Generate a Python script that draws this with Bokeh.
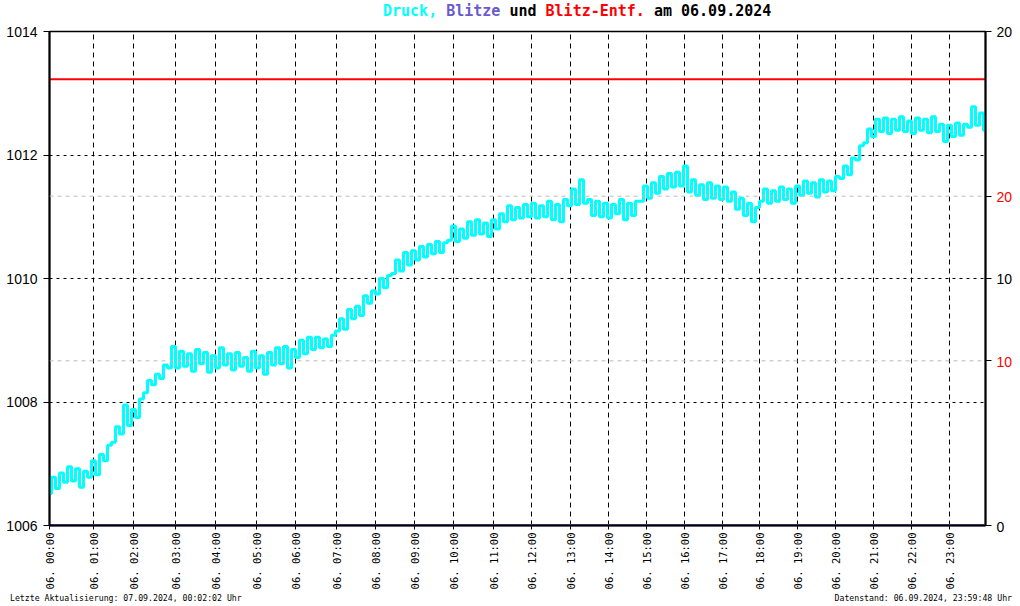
import numpy as np
from bokeh.plotting import figure
from bokeh.models import Range1d, LinearAxis, FixedTicker, Span, Div, Spacer
from bokeh.layouts import column, row
from bokeh.core.properties import value
from bokeh.embed import file_html
from bokeh.resources import INLINE

# ---------------- data ----------------
day_prefix = "06."
hour_labels = ["00:00", "01:00", "02:00", "03:00", "04:00", "05:00", "06:00", "07:00",
               "08:00", "09:00", "10:00", "11:00", "12:00", "13:00", "14:00", "15:00",
               "16:00", "17:00", "18:00", "19:00", "20:00", "21:00", "22:00", "23:00"]
# number of records logged in each hour (x axis is record-index based)
samples_per_hour = [44, 40, 42, 40, 41, 39, 41, 39, 39, 39, 40, 38,
                    39, 38, 38, 38, 38, 37, 38, 38, 38, 38, 38, 36]
record_step = 4  # one pressure value listed per 4 records

pressure = [
    1006.52, 1006.78, 1006.60, 1006.85, 1006.70, 1006.95, 1006.72, 1006.92, 1006.62, 1006.88,
    1006.78, 1007.05, 1006.82, 1007.15, 1007.05, 1007.30, 1007.35, 1007.60, 1007.48, 1007.95,
    1007.62, 1007.88, 1007.75, 1008.05, 1008.15, 1008.35, 1008.28, 1008.45, 1008.38, 1008.60,
    1008.55, 1008.90, 1008.55, 1008.82, 1008.58, 1008.78, 1008.50, 1008.85, 1008.62, 1008.80,
    1008.48, 1008.75, 1008.55, 1008.88, 1008.60, 1008.78, 1008.52, 1008.80, 1008.58, 1008.72,
    1008.50, 1008.82, 1008.55, 1008.75, 1008.45, 1008.80, 1008.60, 1008.88, 1008.62, 1008.90,
    1008.55, 1008.85, 1008.72, 1009.00, 1008.78, 1009.05, 1008.85, 1009.05, 1008.88, 1009.02,
    1008.90, 1009.08, 1009.15, 1009.35, 1009.18, 1009.50, 1009.35, 1009.55, 1009.40, 1009.72,
    1009.60, 1009.80, 1009.75, 1010.00, 1009.85, 1010.05, 1010.08, 1010.30, 1010.12, 1010.42,
    1010.22, 1010.45, 1010.30, 1010.52, 1010.35, 1010.55, 1010.40, 1010.60, 1010.42, 1010.58,
    1010.62, 1010.85, 1010.60, 1010.80, 1010.65, 1010.92, 1010.70, 1010.95, 1010.72, 1010.90,
    1010.68, 1010.95, 1010.80, 1011.05, 1010.92, 1011.18, 1010.95, 1011.15, 1010.98, 1011.20,
    1011.00, 1011.22, 1010.98, 1011.18, 1011.00, 1011.25, 1010.95, 1011.20, 1010.92, 1011.28,
    1011.18, 1011.45, 1011.20, 1011.60, 1011.22, 1011.28, 1011.02, 1011.25, 1011.00, 1011.22,
    1010.98, 1011.20, 1011.05, 1011.28, 1010.95, 1011.22, 1011.02, 1011.25, 1011.25, 1011.50,
    1011.30, 1011.55, 1011.38, 1011.65, 1011.45, 1011.70, 1011.48, 1011.72, 1011.50, 1011.82,
    1011.40, 1011.60, 1011.35, 1011.52, 1011.28, 1011.55, 1011.30, 1011.50, 1011.28, 1011.48,
    1011.25, 1011.40, 1011.12, 1011.30, 1011.02, 1011.22, 1010.92, 1011.15, 1011.25, 1011.45,
    1011.22, 1011.42, 1011.25, 1011.48, 1011.28, 1011.45, 1011.22, 1011.50, 1011.35, 1011.58,
    1011.38, 1011.55, 1011.32, 1011.60, 1011.40, 1011.58, 1011.42, 1011.65, 1011.62, 1011.82,
    1011.68, 1011.95, 1011.92, 1012.15, 1012.20, 1012.42, 1012.30, 1012.58, 1012.38, 1012.60,
    1012.35, 1012.58, 1012.40, 1012.62, 1012.38, 1012.55, 1012.35, 1012.60, 1012.40, 1012.58,
    1012.36, 1012.62, 1012.38, 1012.50, 1012.22, 1012.48, 1012.30, 1012.52, 1012.32, 1012.50,
    1012.45, 1012.78, 1012.48, 1012.68, 1012.40,
]
blitze = [0, 0]            # lightning count: none during the day
blitz_entf = [27.1, 27.1]  # lightning distance line

pressure_ticks = [1006, 1008, 1010, 1012, 1014]
blitze_ticks = [0, 10, 20]
entf_ticks = [10, 20]

title_parts = [("Druck,", "#00FFFF"), ("Blitze", "#6A5ACD"), ("und", "black"),
               ("Blitz-Entf.", "#FF0000"), ("am 06.09.2024", "black")]
footer_left = "Letzte Aktualisierung: 07.09.2024, 00:02:02 Uhr"
footer_right = "Datenstand: 06.09.2024, 23:59:48 Uhr"

# ---------------- derived ----------------
total = int(np.sum(samples_per_hour))
hour_pos = [int(v) for v in np.concatenate([[0], np.cumsum(samples_per_hour)[:-1]])]
px = np.arange(len(pressure)) * record_step
ends = [0, total]

BLITZE_MAX = 20
ENTF_MAX = 30
scale = ENTF_MAX / BLITZE_MAX

# layout geometry
TOTAL_W = 1016
TITLE_H = 22
FOOT_H = 12
B_TOP, B_BOT, B_LEFT, B_RIGHT = 9, 66, 49, 8
FRAME_W, FRAME_H = 936, 495
P_W = B_LEFT + FRAME_W + B_RIGHT
P_H = B_TOP + FRAME_H + B_BOT

p = figure(width=P_W, height=P_H, x_range=Range1d(0, total), y_range=Range1d(1006, 1014),
           title=None, output_backend="svg", toolbar_location=None,
           min_border_left=B_LEFT, min_border_right=B_RIGHT,
           min_border_top=B_TOP, min_border_bottom=B_BOT)
p.extra_y_ranges = {"entf": Range1d(0, ENTF_MAX)}
p.background_fill_color = "white"
p.border_fill_color = "white"
p.outline_line_color = "black"
p.outline_line_width = 1.5

# grids
p.xgrid.ticker = FixedTicker(ticks=hour_pos)
p.xgrid.grid_line_color = "black"
p.xgrid.grid_line_dash = "5 4"
p.ygrid.ticker = FixedTicker(ticks=pressure_ticks)
p.ygrid.grid_line_color = "black"
p.ygrid.grid_line_dash = "3 4"
for v in entf_ticks:
    p.add_layout(Span(location=v, dimension="width", y_range_name="entf",
                      line_color="#bdbdbd", line_dash="4 4", line_width=1))

# x axis
xa = p.xaxis[0]
xa.ticker = FixedTicker(ticks=hour_pos)
xa.major_label_overrides = {pos: f"{day_prefix} {lab}" for pos, lab in zip(hour_pos, hour_labels)}
xa.major_label_orientation = np.pi / 2
xa.major_label_text_font = "DejaVu Sans Mono"
xa.major_label_text_font_size = "10.5px"
xa.major_label_text_color = "black"
xa.major_label_standoff = 3
xa.major_tick_out = 4
xa.major_tick_in = 0
xa.minor_tick_line_color = None
xa.axis_line_width = 2

# left axis
ya = p.yaxis[0]
ya.ticker = FixedTicker(ticks=pressure_ticks)
ya.major_label_text_font = "Liberation Sans"
ya.major_label_text_font_size = "14px"
ya.major_label_text_color = "black"
ya.major_label_standoff = 6
ya.major_tick_out = 6
ya.major_tick_in = 0
ya.minor_tick_line_color = None
ya.axis_line_width = 2

# right axis: tick marks only, labels drawn in the side strip
right_ticks = sorted([t * scale for t in blitze_ticks] + entf_ticks)
ra = LinearAxis(y_range_name="entf", ticker=FixedTicker(ticks=right_ticks),
                major_label_overrides={t: "" for t in right_ticks})
ra.major_label_standoff = 0
ra.major_tick_out = 6
ra.major_tick_in = 0
ra.minor_tick_line_color = None
ra.axis_line_width = 2
p.add_layout(ra, "right")

# data
p.line(ends, [b * scale for b in blitze], y_range_name="entf", line_color="#6A5ACD", line_width=3)
p.line(ends, blitz_entf, y_range_name="entf", line_color="#FF0000", line_width=2)
p.step(px, pressure, mode="center", line_color="#00FFFF", line_width=3)

# side strip with right-hand tick labels (black: Blitze, red: Entfernung)
PAD = 9
pad_u = PAD * ENTF_MAX / FRAME_H
q = figure(width=TOTAL_W - P_W, height=P_H, x_range=Range1d(0, 1),
           y_range=Range1d(-pad_u, ENTF_MAX + pad_u), x_axis_type=None, y_axis_type=None,
           title=None, output_backend="svg", toolbar_location=None,
           min_border_left=0, min_border_right=0,
           min_border_top=B_TOP - PAD, min_border_bottom=B_BOT - PAD)
for fig in (p, q):
    if "frame_align" in fig.properties():
        fig.frame_align = False
q.outline_line_color = None
q.background_fill_color = "white"
q.border_fill_color = "white"
q.text([0] * len(blitze_ticks), [t * scale for t in blitze_ticks], text=[str(t) for t in blitze_ticks],
       x_offset=3, text_color="black", text_font=value("Liberation Sans"), text_font_size="14px",
       text_baseline="middle", text_align="left")
q.text([0] * len(entf_ticks), entf_ticks, text=[str(t) for t in entf_ticks],
       x_offset=3, text_color="#FF0000", text_font=value("Liberation Sans"), text_font_size="14px",
       text_baseline="middle", text_align="left")

# title (multi-coloured)
title_html = " ".join(f'<span style="color:{c}">{t}</span>' for t, c in title_parts)
title_div = Div(text=title_html, width=TOTAL_W - 383, height=TITLE_H, margin=0,
                styles={"font-family": "DejaVu Sans Mono", "font-size": "15px",
                        "font-weight": "bold", "line-height": f"{TITLE_H}px",
                        "white-space": "pre"})
title_row = row(Spacer(width=383, height=TITLE_H, margin=0), title_div, spacing=0)

foot_style = {"font-family": "DejaVu Sans Mono", "font-size": "8.2px",
              "line-height": f"{FOOT_H}px", "white-space": "pre", "color": "black"}
fl = Div(text=footer_left, width=490, height=FOOT_H, margin=0, styles=dict(foot_style))
fr = Div(text=footer_right, width=TOTAL_W - 10 - 490 - 4, height=FOOT_H, margin=0,
         styles=dict(foot_style, **{"text-align": "right"}))
foot_row = row(Spacer(width=10, height=FOOT_H, margin=0), fl, fr, spacing=0)

layout = column(title_row, row(p, q, spacing=0), foot_row, spacing=0)

open("out.html", "w").write(file_html(layout, INLINE))
